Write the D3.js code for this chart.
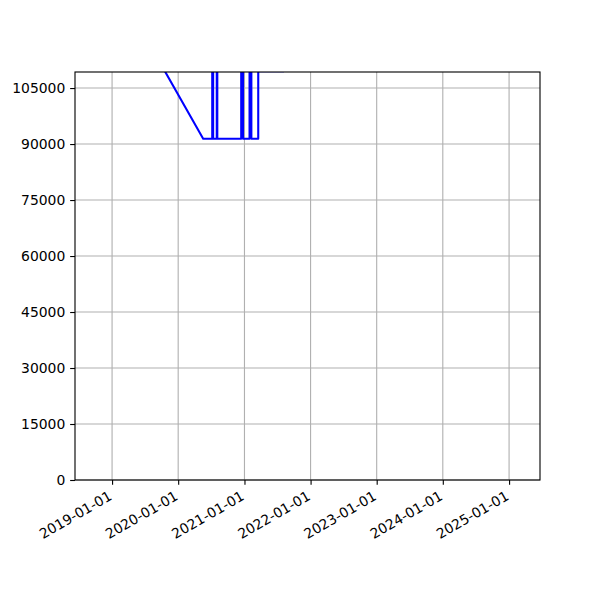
<!DOCTYPE html>
<html>
<head>
<meta charset="utf-8">
<script src="https://cdn.jsdelivr.net/npm/d3@7"></script>
<style>
  body { margin: 0; background: #fff; }
  text { font-family: "DejaVu Sans", sans-serif; font-size: 13.9px; fill: #000; }
</style>
</head>
<body>
<div id="chart"></div>
<script>

// data (values above the top edge are clipped)
var dates = ["2018-10-05", "2020-05-18", "2020-07-07", "2020-07-07", "2020-07-12", "2020-07-12",
  "2020-08-01", "2020-08-01", "2020-08-04", "2020-08-04", "2020-12-14", "2020-12-14",
  "2020-12-24", "2020-12-24", "2021-01-29", "2021-01-29", "2021-02-08", "2021-02-08",
  "2021-03-18", "2021-03-18", "2021-08-04", "2025-02-24"];
var values = [142000, 91400, 91400, 125000, 125000, 91400,
  91400, 125000, 125000, 91400, 91400, 125000,
  125000, 91400, 91400, 125000, 125000, 91400,
  91400, 109500, 109500, 140000];
var yTicks = [0, 15000, 30000, 45000, 60000, 75000, 90000, 105000];
var xTickLabels = ["2019-01-01", "2020-01-01", "2021-01-01", "2022-01-01", "2023-01-01", "2024-01-01", "2025-01-01"];
var yMax = 109300;

// space for the chart
var svgWidth = 600;
var svgHeight = 600;

var margin = {
  top: 72,
  right: 60,
  bottom: 120,
  left: 75
};

var chartWidth = svgWidth - margin.left - margin.right;
var chartHeight = svgHeight - margin.top - margin.bottom;

// matplotlib points -> pixels at 100 dpi
var pt = 100 / 72;

var parseDate = d3.timeParse("%Y-%m-%d");

var lineData = dates.map((d, i) => ({ date: parseDate(d), value: values[i] }));

var svg = d3.select("#chart")
  .append("svg")
  .attr("width", svgWidth)
  .attr("height", svgHeight);

var chartGroup = svg.append("g")
  .attr("transform", `translate(${margin.left}, ${margin.top})`);

// x scale with 5% padding each side like matplotlib
var extent = d3.extent(lineData, d => d.date);
var span = extent[1] - extent[0];
var xTimeScale = d3.scaleTime()
  .domain([new Date(+extent[0] - span * 0.05), new Date(+extent[1] + span * 0.05)])
  .range([0, chartWidth]);

var yLinearScale = d3.scaleLinear()
  .domain([0, yMax])
  .range([chartHeight, 0]);

var tickLen = 3.5 * pt;
var tickPad = 3.5 * pt;
var xTickDates = xTickLabels.map(parseDate);

// grid lines
chartGroup.append("g")
  .selectAll("line")
  .data(xTickDates)
  .enter()
  .append("line")
  .attr("x1", d => xTimeScale(d))
  .attr("x2", d => xTimeScale(d))
  .attr("y1", 0)
  .attr("y2", chartHeight)
  .attr("stroke", "#b0b0b0")
  .attr("stroke-width", 0.8 * pt);

chartGroup.append("g")
  .selectAll("line")
  .data(yTicks)
  .enter()
  .append("line")
  .attr("x1", 0)
  .attr("x2", chartWidth)
  .attr("y1", d => yLinearScale(d))
  .attr("y2", d => yLinearScale(d))
  .attr("stroke", "#b0b0b0")
  .attr("stroke-width", 0.8 * pt);

// clip the line to the plot area
svg.append("defs")
  .append("clipPath")
  .attr("id", "plotClip")
  .append("rect")
  .attr("width", chartWidth)
  .attr("height", chartHeight);

var line = d3.line()
  .x(d => xTimeScale(d.date))
  .y(d => yLinearScale(d.value));

chartGroup.append("path")
  .datum(lineData)
  .attr("clip-path", "url(#plotClip)")
  .attr("d", line)
  .attr("fill", "none")
  .attr("stroke", "#0000ff")
  .attr("stroke-width", 1.5 * pt)
  .attr("stroke-linejoin", "round");

// x axis
var bottomAxis = d3.axisBottom(xTimeScale)
  .tickValues(xTickDates)
  .tickFormat(d3.timeFormat("%Y-%m-%d"))
  .tickSizeInner(tickLen)
  .tickSizeOuter(0)
  .tickPadding(tickPad);

var xAxis = chartGroup.append("g")
  .attr("transform", `translate(0, ${chartHeight})`)
  .call(bottomAxis);

xAxis.select(".domain").remove();
xAxis.selectAll("line").attr("stroke", "#000").attr("stroke-width", 0.8 * pt);
xAxis.selectAll("text")
  .attr("text-anchor", "end")
  .attr("y", 0)
  .attr("dy", "0.76em")
  .attr("transform", `translate(-5, ${tickLen + tickPad}) rotate(-30)`);

// y axis
var leftAxis = d3.axisLeft(yLinearScale)
  .tickValues(yTicks)
  .tickFormat(d3.format("d"))
  .tickSizeInner(tickLen)
  .tickSizeOuter(0)
  .tickPadding(tickPad);

var yAxis = chartGroup.append("g")
  .call(leftAxis);

yAxis.select(".domain").remove();
yAxis.selectAll("line").attr("stroke", "#000").attr("stroke-width", 0.8 * pt);
xAxis.attr("font-size", null).attr("font-family", null);
yAxis.attr("font-size", null).attr("font-family", null);

// frame
chartGroup.append("rect")
  .attr("width", chartWidth)
  .attr("height", chartHeight)
  .attr("fill", "none")
  .attr("stroke", "#000")
  .attr("stroke-width", 0.8 * pt);

</script>
</body>
</html>
